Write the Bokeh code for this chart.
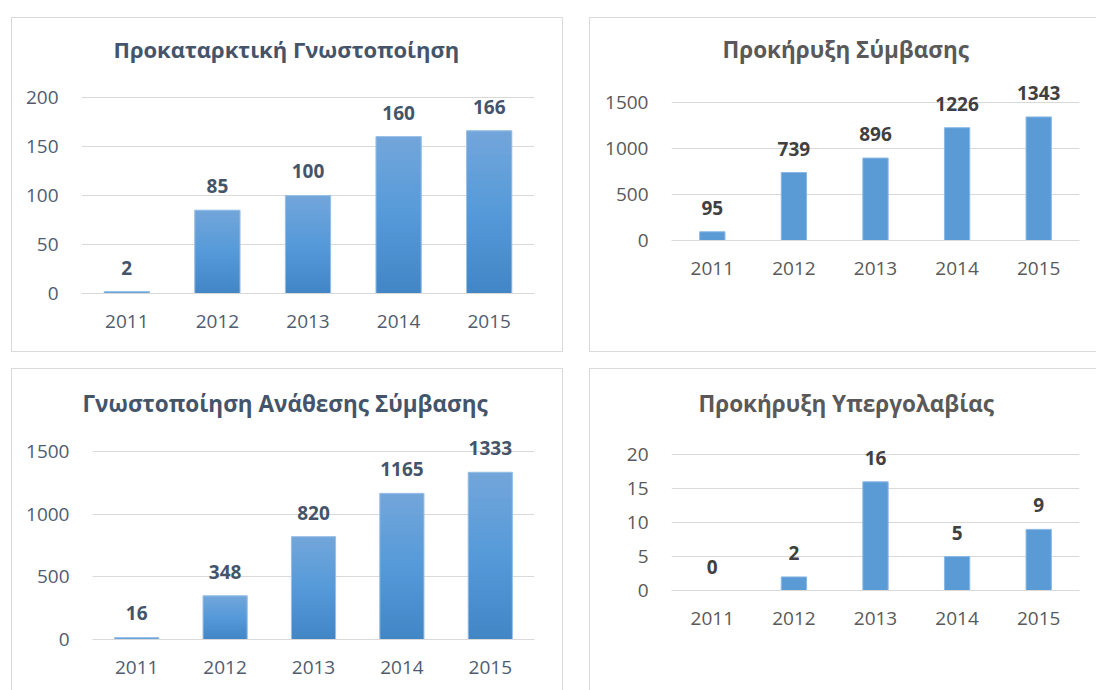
from bokeh.plotting import figure
from bokeh.models import FactorRange, Range1d, FixedTicker, Spacer, ColumnDataSource
from bokeh.layouts import column, row
from bokeh.embed import file_html
from bokeh.resources import INLINE
from bokeh.core.properties import value

# ---------------- data ----------------
years = ["2011", "2012", "2013", "2014", "2015"]

title_prior = "Προκαταρκτική Γνωστοποίηση"
vals_prior = [2, 85, 100, 160, 166]
ticks_prior = [0, 50, 100, 150, 200]

title_notice = "Προκήρυξη Σύμβασης"
vals_notice = [95, 739, 896, 1226, 1343]
ticks_notice = [0, 500, 1000, 1500]

title_award = "Γνωστοποίηση Ανάθεσης Σύμβασης"
vals_award = [16, 348, 820, 1165, 1333]
ticks_award = [0, 500, 1000, 1500]

title_sub = "Προκήρυξη Υπεργολαβίας"
vals_sub = [0, 2, 16, 5, 9]
ticks_sub = [0, 5, 10, 15, 20]

FONT = "Open Sans"
BORDER = "1px solid #d9d9d9"


def hex2rgb(h):
    h = h.lstrip("#")
    return tuple(int(h[i:i + 2], 16) for i in (0, 2, 4))


def rgb2hex(c):
    return "#%02x%02x%02x" % tuple(int(round(v)) for v in c)


def lerp(c1, c2, t):
    a, b = hex2rgb(c1), hex2rgb(c2)
    return rgb2hex([a[i] + (b[i] - a[i]) * t for i in range(3)])


def grad_color(t):
    # t = 0 bottom, 1 top
    if t < 0.5:
        return lerp("#4285c6", "#559ad9", t / 0.5)
    return lerp("#559ad9", "#73a6da", (t - 0.5) / 0.5)


def make_panel(title, vals, ticks, y_end, width, height, borders, bar_w,
               gradient, title_color, tick_color, label_color, title_offset,
               title_standoff, title_size, top_shift=0):
    mb_left, mb_right, mb_top, mb_bottom = borders
    p = figure(x_range=FactorRange(factors=years), y_range=Range1d(0, y_end),
               width=width, height=height, output_backend="svg",
               toolbar_location=None, title=title,
               min_border_left=mb_left, min_border_right=mb_right,
               min_border_top=mb_top, min_border_bottom=mb_bottom,
               margin=(-top_shift, 0, 0, 0))
    p.title.align = "left"
    p.title.text_font = FONT
    p.title.text_font_size = title_size
    p.title.text_font_style = "bold"
    p.title.text_color = title_color
    p.title.offset = title_offset
    p.title.standoff = title_standoff

    p.outline_line_color = None
    p.background_fill_color = "white"
    p.border_fill_color = "white"
    p.border_fill_alpha = 0

    p.xgrid.grid_line_color = None
    p.ygrid.grid_line_color = "#d9d9d9"
    p.ygrid.grid_line_width = 1
    p.yaxis.ticker = FixedTicker(ticks=ticks)
    p.yaxis.axis_line_color = None
    p.yaxis.major_tick_line_color = None
    p.yaxis.minor_tick_line_color = None
    p.yaxis.major_label_standoff = 17
    p.yaxis.major_label_text_font = FONT
    p.yaxis.major_label_text_font_size = "19px"
    p.yaxis.major_label_text_color = tick_color

    p.xaxis.axis_line_color = "#d9d9d9"
    p.xaxis.major_tick_line_color = None
    p.xaxis.minor_tick_line_color = None
    p.xaxis.major_label_standoff = 15
    p.xaxis.major_label_text_font = FONT
    p.xaxis.major_label_text_font_size = "19px"
    p.xaxis.major_label_text_color = tick_color

    if gradient:
        n = 40
        xs, bots, tops, cols = [], [], [], []
        for yr, v in zip(years, vals):
            for k in range(n):
                xs.append(yr)
                bots.append(v * k / n)
                tops.append(v * min(k + 2, n) / n)
                cols.append(grad_color((k + 0.5) / n))
        src = ColumnDataSource(dict(x=xs, bottom=bots, top=tops, color=cols))
        p.vbar(x="x", bottom="bottom", top="top", width=bar_w, source=src,
               fill_color="color", line_color=None)
        p.vbar(x=years, top=vals, width=bar_w, fill_alpha=0,
               line_color="#9cc2e8", line_width=1)
    else:
        p.vbar(x=years, top=vals, width=bar_w, fill_color="#5b9bd5",
               line_color="#8ab8e6", line_width=1)

    p.text(x=years, y=vals, text=[str(v) for v in vals],
           text_align="center", text_baseline="middle", y_offset=-24,
           text_font=value(FONT), text_font_size="19px",
           text_font_style="bold", text_color=label_color)
    return p


def boxed(p, top_pad, bottom_pad, styles):
    kids = []
    if top_pad > 0:
        kids.append(Spacer(height=top_pad, width=p.width))
    kids.append(p)
    if bottom_pad > 0:
        kids.append(Spacer(height=bottom_pad, width=p.width))
    return column(*kids, styles=styles)


p1 = make_panel(title_prior, vals_prior, ticks_prior, 205, 550, 350,
                (69, 28, 91, 58), 0.5, True,
                "#44546a", "#4f5c70", "#44546a", 32, 57, "22px", top_shift=17)
p2 = make_panel(title_notice, vals_notice, ticks_notice, 1750, 506, 284,
                (81, 17, 65, 58), 0.31, False,
                "#595959", "#595959", "#404040", 51, 30, "22.5px", top_shift=4)
p3 = make_panel(title_award, vals_award, ticks_award, 1650, 550, 321,
                (80, 28, 63, 51), 0.5, True,
                "#44546a", "#4f5c70", "#44546a", -10, 27, "22.5px")
p4 = make_panel(title_sub, vals_sub, ticks_sub, 21.5, 506, 283,
                (81, 17, 86, 51), 0.31, False,
                "#595959", "#595959", "#404040", 27, 51, "22.5px", top_shift=11)

c1 = boxed(p1, 0, 0, {"border": BORDER})
c2 = boxed(p2, 0, 53, {"border-top": BORDER, "border-left": BORDER,
                       "border-bottom": BORDER})
c3 = boxed(p3, 0, 0, {"border-top": BORDER, "border-left": BORDER,
                      "border-right": BORDER})
c4 = boxed(p4, 0, 49, {"border-top": BORDER, "border-left": BORDER})

layout = column(
    Spacer(height=17),
    row(Spacer(width=11), c1, Spacer(width=26), c2),
    Spacer(height=16),
    row(Spacer(width=11), c3, Spacer(width=26), c4),
)

open("out.html", "w").write(file_html(layout, INLINE))
